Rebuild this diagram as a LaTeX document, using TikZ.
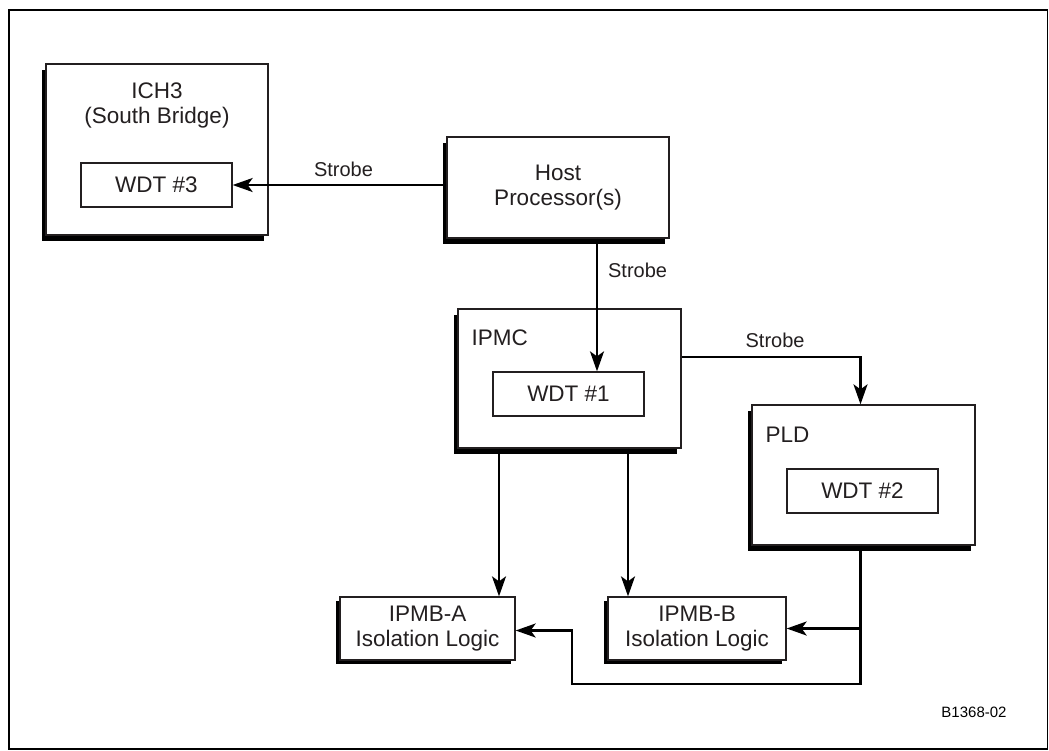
\documentclass[tikz,border=0pt]{standalone}
\usepackage{fontspec}
\setsansfont{Liberation Sans}
\usetikzlibrary{arrows.meta}
\usetikzlibrary{positioning}
\usetikzlibrary{shadows}

\definecolor{ink}{HTML}{231F20}

\begin{document}
\begin{tikzpicture}[
		x=1pt, y=-1pt,
		every node/.style={font=\sffamily\fontsize{22.5}{25}\selectfont, text=ink, inner sep=0pt},
		unit/.style={draw=ink, line width=1.3pt, fill=white, align=center,
			drop shadow={shadow xshift=-4.5pt, shadow yshift=-5.5pt, fill=black, opacity=1}},
		logic/.style={draw=ink, line width=1.3pt, fill=white, align=center, minimum height=63pt,
			drop shadow={shadow xshift=-4pt, shadow yshift=-4pt, fill=black, opacity=1}},
		wdt/.style={draw=ink, line width=1.3pt, fill=white, minimum width=151pt, minimum height=44pt},
		link/.style={draw=black, line width=2.2pt, -{Stealth[length=20pt, width=14pt, inset=5pt]}},
		strobe/.style={font=\sffamily\fontsize{20}{24}\selectfont}
	]

	\useasboundingbox (0,0) rectangle (1049,750);

	% Frame
	\draw[line width=1.5pt] (9,10) rectangle (1047.5,749);

	% ICH3, Host
	\node[unit, minimum width=222pt, minimum height=171pt] (ich) at (157,149.5) {};
	\node[below=19pt of ich.north, align=center] (ichtitle) {ICH3\\(South Bridge)};
	\node[wdt] (wdtthree) at (156.5,185) {WDT \#3};
	\node[unit, minimum width=222pt, minimum height=101pt] (host) at (558,187.5) {Host\\Processor(s)};

	% IPMC, PLD
	\node[unit, minimum width=223pt, minimum height=139pt] (ipmc) at (569.5,378.5) {};
	\node[below right=21pt and 14pt of ipmc.north west] (ipmctitle) {IPMC};
	\node[wdt] (wdtone) at (568.5,394) {WDT \#1};
	\node[unit, minimum width=223pt, minimum height=140pt] (pld) at (863.5,475) {};
	\node[below right=22pt and 14pt of pld.north west] (pldtitle) {PLD};
	\node[wdt] (wdttwo) at (862.5,491) {WDT \#2};

	% IPMB isolation
	\node[logic, minimum width=175pt] (ipmba) at (427.5,628.5) {IPMB-A\\Isolation Logic};
	\node[logic, minimum width=178pt] (ipmbb) at (697,628.5) {IPMB-B\\Isolation Logic};

	\node[font=\sffamily\fontsize{15}{18}\selectfont, text=black] (figid) at (974,712) {B1368-02};

	% Arrows
	\draw[link] (host.west |- wdtthree.east) -- node[strobe, above=7pt, xshift=4pt] (strobeich) {Strobe} (wdtthree.east);
	\draw[link] ([xshift=39pt]host.south) -- node[strobe, right=10pt, pos=0.24] (strobeipmc) {Strobe} ([xshift=28.5pt]wdtone.north);
	\draw[link] ([yshift=21.5pt]ipmc.east) -| node[strobe, above=8pt, pos=0.25, xshift=4pt] (strobepld) {Strobe} ([xshift=-3pt]pld.north);
	\draw[link] ([xshift=71.5pt]ipmba.north |- ipmc.south) -- ([xshift=71.5pt]ipmba.north);
	\draw[link] ([xshift=-69pt]ipmbb.north |- ipmc.south) -- ([xshift=-69pt]ipmbb.north);

	\coordinate (bend) at (572,684);
	\draw[link] ([xshift=-3pt]pld.south) |- (bend) |- ([yshift=-2pt]ipmba.east);
	\draw[link] ([xshift=-3pt]pld.south |- ipmbb.east) -- (ipmbb.east);

\end{tikzpicture}
\end{document}
